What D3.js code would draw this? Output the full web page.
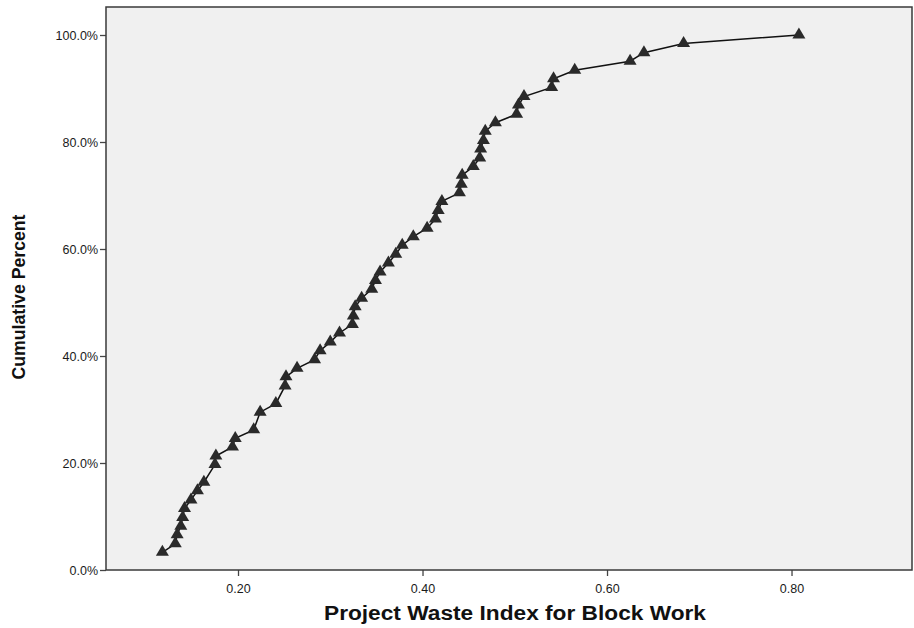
<!DOCTYPE html>
<html>
<head>
<meta charset="utf-8">
<script src="https://cdn.jsdelivr.net/npm/d3@7"></script>
<style>
  html, body { margin: 0; padding: 0; background: #ffffff; }
  svg { display: block; }
  text { font-family: "Liberation Sans", Arial, sans-serif; }
</style>
</head>
<body>
<svg id="chart" width="914" height="628"></svg>
<script>
// Project waste index for block work (sorted distinct values)
const wasteIndex = [
  0.118, 0.132, 0.134, 0.138, 0.140, 0.142, 0.149, 0.156, 0.163,
  0.175, 0.176, 0.194, 0.197, 0.217, 0.224, 0.241, 0.251, 0.252,
  0.264, 0.283, 0.289, 0.300, 0.310, 0.324, 0.325, 0.327, 0.334,
  0.345, 0.349, 0.354, 0.363, 0.371, 0.378, 0.390, 0.405, 0.414,
  0.417, 0.421, 0.440, 0.442, 0.443, 0.455, 0.462, 0.463, 0.466,
  0.468, 0.479, 0.502, 0.504, 0.510, 0.540, 0.542, 0.565, 0.625,
  0.640, 0.683, 0.808
];

// Cumulative percent at each value
const cumulativePercent = [
  3.3, 4.9, 6.6, 8.2, 9.8, 11.5, 13.1, 14.8, 16.4,
  19.7, 21.3, 23.0, 24.6, 26.2, 29.5, 31.1, 34.4, 36.1,
  37.7, 39.3, 41.0, 42.6, 44.3, 45.9, 47.5, 49.2, 50.8,
  52.5, 54.1, 55.7, 57.4, 59.0, 60.7, 62.3, 63.9, 65.6,
  67.2, 68.9, 70.5, 72.1, 73.8, 75.4, 77.0, 78.7, 80.3,
  82.0, 83.6, 85.2, 86.9, 88.5, 90.2, 91.8, 93.4, 95.1,
  96.7, 98.4, 100.0
];

const xTicks = [0.20, 0.40, 0.60, 0.80];
const yTicks = [0, 20, 40, 60, 80, 100];

const xTitle = "Project Waste Index for Block Work";
const yTitle = "Cumulative Percent";

const svg = d3.select("#chart");

const plot = { left: 106, right: 912, top: 7, bottom: 570 };

const x = d3.scaleLinear().domain([0.0569, 0.9306]).range([plot.left, plot.right]);
const y = d3.scaleLinear().domain([0, 100]).range([plot.bottom, 35]);

// plot background
svg.append("rect")
  .attr("x", plot.left).attr("y", plot.top)
  .attr("width", plot.right - plot.left).attr("height", plot.bottom - plot.top)
  .attr("fill", "#f0f0f0");

// axes
const xAxis = d3.axisBottom(x).tickValues(xTicks).tickFormat(d3.format(".2f")).tickSize(6).tickSizeOuter(0);
const yAxis = d3.axisLeft(y).tickValues(yTicks).tickFormat(d => d3.format(".1f")(d) + "%").tickSize(6).tickSizeOuter(0);

const gx = svg.append("g").attr("transform", `translate(0,${plot.bottom})`).call(xAxis);
const gy = svg.append("g").attr("transform", `translate(${plot.left},0)`).call(yAxis);

[gx, gy].forEach(g => {
  g.select(".domain").remove();
  g.selectAll(".tick line").attr("stroke", "#444").attr("stroke-width", 1.3);
  g.selectAll(".tick text").attr("fill", "#1a1a1a").style("font-size", "12.5px");
});
gx.selectAll(".tick text").attr("dy", "1.15em");
gy.selectAll(".tick text").attr("x", -8).attr("dy", "0.35em");

// plot frame
svg.append("rect")
  .attr("x", plot.left).attr("y", plot.top)
  .attr("width", plot.right - plot.left).attr("height", plot.bottom - plot.top)
  .attr("fill", "none").attr("stroke", "#3a3a3a").attr("stroke-width", 1.5);

// data
const data = wasteIndex.map((v, i) => ({ v, p: cumulativePercent[i] }));

const line = d3.line().x(d => x(d.v)).y(d => y(d.p));

svg.append("path")
  .datum(data)
  .attr("d", line)
  .attr("fill", "none")
  .attr("stroke", "#111")
  .attr("stroke-width", 1.5);

svg.append("g").selectAll("path")
  .data(data)
  .join("path")
  .attr("transform", d => `translate(${x(d.v)},${y(d.p)})`)
  .attr("d", "M0,-7.5L6.5,3.5L-6.5,3.5Z")
  .attr("fill", "#2a2a2a");

// axis titles
svg.append("text")
  .attr("x", 515).attr("y", 620)
  .attr("text-anchor", "middle")
  .attr("font-weight", "bold")
  .attr("textLength", 382)
  .attr("lengthAdjust", "spacingAndGlyphs")
  .style("font-size", "19.5px")
  .attr("fill", "#111")
  .text(xTitle);

svg.append("text")
  .attr("transform", "translate(25,297) rotate(-90)")
  .attr("text-anchor", "middle")
  .attr("font-weight", "bold")
  .attr("textLength", 165)
  .attr("lengthAdjust", "spacingAndGlyphs")
  .style("font-size", "18px")
  .attr("fill", "#111")
  .text(yTitle);
</script>
</body>
</html>
